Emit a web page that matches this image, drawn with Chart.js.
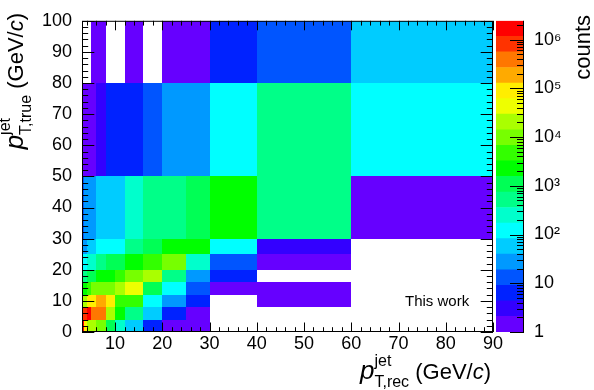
<!DOCTYPE html>
<html>
<head>
<meta charset="utf-8">
<script src="https://cdn.jsdelivr.net/npm/chart.js@4.4.1/dist/chart.umd.min.js"></script>
<style>
  html, body { margin: 0; padding: 0; background: #fff; }
  #wrap { position: relative; width: 594px; height: 390px; }
  #wrap canvas { position: absolute; left: 0; top: 0; }
</style>
</head>
<body>
<div id="wrap">
  <canvas id="matrix" width="594" height="390"></canvas>
  <canvas id="palette" width="594" height="390"></canvas>
</div>
<script>
// bin edges, GeV/c
const recEdges = [3, 3.5, 4, 5, 6, 8, 10, 12, 16, 20, 25, 30, 40, 60, 90];
const trueEdges = [0, 4, 8, 12, 16, 20, 25, 30, 50, 80, 100];

// counts for each p_T,true bin, one per p_T,rec bin (null = empty bin)
const true0to4 = [1700000, 89000, 20000, 20000, 9800, 1100, 250, 57, 6, 1, 1, null, null, null];
const true4to8 = [810000, 810000, 1700000, 390000, 390000, 20000, 2300, 520, 57, 6, 1, null, null, null];
const true8to12 = [20000, 20000, 89000, 89000, 190000, 89000, 4700, 4700, 120, 27, 6, null, 1, null];
const true12to16 = [2300, 2300, 4700, 9800, 9800, 9800, 20000, 43000, 1100, 120, 13, 1, 1, null];
const true16to20 = [520, 520, 1100, 1100, 2300, 2300, 4700, 9800, 20000, 520, 27, 6, null, null];
const true20to25 = [120, 120, 250, 250, 520, 1100, 1100, 2300, 4700, 9800, 250, 13, 1, null];
const true25to30 = [27, 27, 57, 57, 120, 120, 120, 520, 1100, 2300, 2300, 120, 3, null];
const true30to50 = [13, 27, 27, 27, 57, 57, 57, 250, 520, 520, 1100, 2300, 520, 1];
const true50to80 = [1, 1, 1, 1, 3, 6, 6, 6, 13, 27, 27, 120, 520, 120];
const true80to100 = [null, null, null, 1, 1, null, null, 1, null, 1, 1, 6, 13, 57];
const countRows = [true0to4, true4to8, true8to12, true12to16, true16to20,
  true20to25, true25to30, true30to50, true50to80, true80to100];

const xTicks = [10, 20, 30, 40, 50, 60, 70, 80, 90];
const yTicks = [0, 10, 20, 30, 40, 50, 60, 70, 80, 90, 100];
const zTicks = [1, 10, 100, 1000, 10000, 100000, 1000000];
const zLabels = ["1", "10", "10²", "10³", "10⁴", "10⁵", "10⁶"];
const zMax = 2430000;

// ROOT rainbow palette, 20 contours, low -> high
const palette = [
  "#6600ff", "#3300ff", "#0022ff", "#0055ff", "#0099ff",
  "#00ccff", "#00ffff", "#00ffcc", "#00ff88", "#00ff55",
  "#00ff00", "#33ff00", "#77ff00", "#aaff00", "#eeff00",
  "#ffee00", "#ffaa00", "#ff7700", "#ff3300", "#ff0000",
];

const FONT = "'Liberation Sans', Arial, sans-serif";
Chart.defaults.font.family = FONT;
Chart.defaults.color = "#000";

function colorFor(v) {
  let k = Math.floor((Math.log10(v) / Math.log10(zMax)) * palette.length);
  k = Math.max(0, Math.min(palette.length - 1, k));
  return palette[k];
}

const cells = [];
countRows.forEach((row, j) => {
  row.forEach((v, i) => {
    if (v === null) return;
    cells.push({
      x: (recEdges[i] + recEdges[i + 1]) / 2,
      y: (trueEdges[j] + trueEdges[j + 1]) / 2,
      x0: recEdges[i], x1: recEdges[i + 1],
      y0: trueEdges[j], y1: trueEdges[j + 1],
      v: v,
    });
  });
});

// text with sub/superscripts, right-aligned at the anchor
function drawTitle(ctx, pieces, ax, ay, angle) {
  const w = pieces.map((p) => {
    if (p.stack) {
      return Math.max(...p.stack.map((s) => { ctx.font = s.font; return ctx.measureText(s.text).width; }));
    }
    ctx.font = p.font;
    return ctx.measureText(p.text).width;
  });
  const total = w.reduce((a, b) => a + b, 0);
  ctx.save();
  ctx.translate(ax, ay);
  ctx.rotate(angle);
  ctx.fillStyle = "#000";
  ctx.textBaseline = "alphabetic";
  ctx.textAlign = "left";
  let cx = -total;
  pieces.forEach((p, i) => {
    if (p.stack) {
      p.stack.forEach((s) => { ctx.font = s.font; ctx.fillText(s.text, cx, s.dy); });
    } else {
      ctx.font = p.font;
      ctx.fillText(p.text, cx, p.dy || 0);
    }
    cx += w[i];
  });
  ctx.restore();
}

function axisTitle(sub) {
  return [
    { text: "p", font: "italic 26px " + FONT },
    { stack: [
      { text: "jet", font: "16px " + FONT, dy: -13 },
      { text: sub, font: "16px " + FONT, dy: 8 },
    ] },
    { text: " (GeV/", font: "22px " + FONT },
    { text: "c", font: "italic 22px " + FONT },
    { text: ")", font: "22px " + FONT },
  ];
}

const cellPlugin = {
  id: "cells",
  beforeDatasetsDraw(chart) {
    const { ctx, scales: { x, y } } = chart;
    ctx.save();
    chart.data.datasets[0].data.forEach((c) => {
      const l = Math.round(x.getPixelForValue(c.x0));
      const r = Math.round(x.getPixelForValue(c.x1));
      const t = Math.round(y.getPixelForValue(c.y1));
      const b = Math.round(y.getPixelForValue(c.y0));
      ctx.fillStyle = colorFor(c.v);
      ctx.fillRect(l, t, r - l, b - t);
    });
    ctx.restore();
  },
  afterDraw(chart) {
    const { ctx, chartArea: a, scales: { x, y } } = chart;
    ctx.save();
    ctx.strokeStyle = "#000";
    ctx.lineWidth = 1;
    ctx.beginPath();
    // x ticks, bottom and top, pointing inwards
    for (let v = 4; v <= 90; v += 2) {
      const px = Math.round(x.getPixelForValue(v)) + 0.5;
      const len = v % 10 === 0 ? 9.5 : 4.8;
      ctx.moveTo(px, a.bottom); ctx.lineTo(px, a.bottom - len);
      ctx.moveTo(px, a.top); ctx.lineTo(px, a.top + len);
    }
    // y ticks, left and right
    for (let v = 0; v <= 100; v += 2) {
      const py = Math.round(y.getPixelForValue(v)) + 0.5;
      const len = v % 10 === 0 ? 12.3 : 6.2;
      ctx.moveTo(a.left, py); ctx.lineTo(a.left + len, py);
      ctx.moveTo(a.right, py); ctx.lineTo(a.right - len, py);
    }
    ctx.stroke();
    ctx.strokeRect(a.left + 0.5, a.top + 0.5, a.right - a.left - 1, a.bottom - a.top - 1);

    ctx.fillStyle = "#000";
    ctx.font = "15px " + FONT;
    ctx.fillText("This work", 405, 306);
    ctx.restore();

    drawTitle(ctx, axisTitle("T,rec"), 491, 379, 0);
    drawTitle(ctx, axisTitle("T,true"), 23, 13, -Math.PI / 2);
    drawTitle(ctx, [{ text: "counts", font: "22px " + FONT }], 590, 15, -Math.PI / 2);
  },
};

new Chart(document.getElementById("matrix"), {
  type: "scatter",
  data: {
    datasets: [{ data: cells, pointRadius: 0, pointHoverRadius: 0 }],
  },
  options: {
    responsive: false,
    animation: false,
    events: [],
    layout: { padding: { left: 0, right: 101, top: 15, bottom: 0 } },
    plugins: { legend: { display: false }, tooltip: { enabled: false } },
    scales: {
      x: {
        type: "linear",
        min: 3,
        max: 90,
        grid: { display: false, drawTicks: false },
        border: { display: false },
        afterBuildTicks: (s) => { s.ticks = xTicks.map((v) => ({ value: v })); },
        afterFit: (s) => { s.height = 58; },
        ticks: { font: { size: 18 }, padding: 1, maxRotation: 0, autoSkip: false },
      },
      y: {
        type: "linear",
        min: 0,
        max: 100,
        grid: { display: false, drawTicks: false },
        border: { display: false },
        afterBuildTicks: (s) => { s.ticks = yTicks.map((v) => ({ value: v })); },
        afterFit: (s) => { s.width = 82; },
        ticks: { font: { size: 18 }, padding: 10, autoSkip: false },
      },
    },
  },
  plugins: [cellPlugin],
});

// colour bar: one floating bar per contour level on a log axis
const levels = palette.map((_, k) => Math.pow(zMax, k / palette.length));
levels.push(zMax);

const barTicksPlugin = {
  id: "barTicks",
  afterDraw(chart) {
    const { ctx, chartArea: a, scales: { y } } = chart;
    ctx.save();
    ctx.strokeStyle = "#000";
    ctx.lineWidth = 1;
    ctx.beginPath();
    for (let d = 1; d <= zMax; d *= 10) {
      for (let m = 1; m < 10; m++) {
        const v = m * d;
        if (v > zMax) break;
        const py = Math.round(y.getPixelForValue(v)) + 0.5;
        const len = m === 1 ? 14 : 7;
        ctx.moveTo(a.right, py); ctx.lineTo(a.right - len, py);
      }
    }
    ctx.moveTo(a.right - 0.5, a.top); ctx.lineTo(a.right - 0.5, a.bottom);
    ctx.stroke();
    ctx.restore();
  },
};

new Chart(document.getElementById("palette"), {
  type: "bar",
  data: {
    labels: ["z"],
    datasets: palette.map((c, k) => ({
      data: [[levels[k], levels[k + 1]]],
      backgroundColor: c,
      borderWidth: 0,
      grouped: false,
      barPercentage: 1,
      categoryPercentage: 1,
    })),
  },
  options: {
    responsive: false,
    animation: false,
    events: [],
    layout: { padding: { left: 496, right: 0, top: 15, bottom: 58 } },
    plugins: { legend: { display: false }, tooltip: { enabled: false } },
    scales: {
      x: { display: false },
      y: {
        type: "logarithmic",
        position: "right",
        min: 1,
        max: zMax,
        grid: { display: false, drawTicks: false },
        border: { display: false },
        afterBuildTicks: (s) => { s.ticks = zTicks.map((v) => ({ value: v })); },
        afterFit: (s) => { s.width = 70; },
        ticks: {
          font: { size: 18 },
          padding: 10,
          autoSkip: false,
          callback: (v) => zLabels[zTicks.indexOf(v)],
        },
      },
    },
  },
  plugins: [barTicksPlugin],
});
</script>
</body>
</html>
